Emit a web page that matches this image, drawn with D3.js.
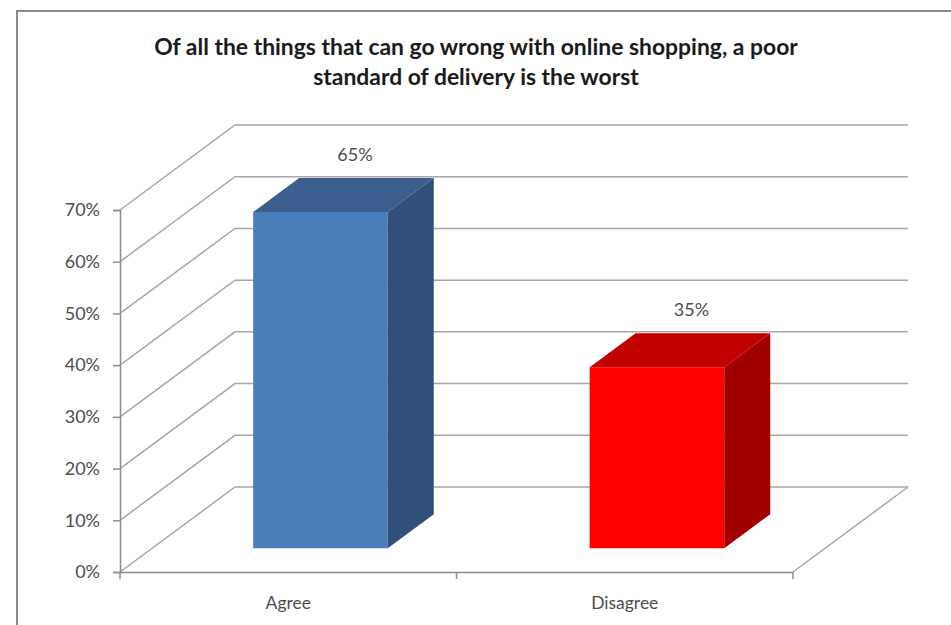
<!DOCTYPE html>
<html><head><meta charset="utf-8">
<script src="https://cdn.jsdelivr.net/npm/d3@7"></script>
<style>html,body{margin:0;padding:0;background:#fff;}svg{display:block;}</style>
</head><body>
<script>
const titleLines = ["Of all the things that can go wrong with online shopping, a poor", "standard of delivery is the worst"];
const categories = ["Agree", "Disagree"];
const values = [0.65, 0.35];
const valueLabels = ["65%", "35%"];
const tickValues = [0, 0.1, 0.2, 0.3, 0.4, 0.5, 0.6, 0.7];
const frontColors = ["#4a7ebb", "#ff0000"];
const topColors = ["#3a5f8e", "#c20000"];
const sideColors = ["#30507a", "#a00000"];

const W = 951, H = 625;
const svg = d3.select("body").append("svg").attr("width", W).attr("height", H);
const font = "Lato, 'Open Sans', sans-serif";

// frame
svg.append("path").attr("d", `M17,${H} L17,11 L${W},11`).attr("fill","none").attr("stroke","#8a8a8a").attr("stroke-width",2);

// title
svg.append("g").selectAll("text").data(titleLines).join("text")
  .attr("x", 476).attr("y", (d,i)=>55 + i*30)
  .attr("text-anchor","middle").attr("font-family",font).attr("font-weight","bold")
  .attr("font-size",22.9).attr("fill","#1a1a1a").text(d=>d);

// scales (front plane z=0), oblique depth
const x = d3.scaleBand().domain(categories).range([120, 793]).paddingInner(0).paddingOuter(0);
const y = d3.scaleLinear().domain([0, 0.7]).range([572, 210]);
const DX = 115, DY = -85;
const P = (px, v, z) => [px + z*DX, y(v) + z*DY];

const grid = svg.append("g").attr("fill","none").attr("stroke","#a6a6a6").attr("stroke-width",1.5);
tickValues.forEach(t => {
  const a = P(x.range()[0], t, 0), b = P(x.range()[0], t, 1), c = P(x.range()[1], t, 1);
  grid.append("path").attr("d", `M${a[0]},${a[1]} L${b[0]},${b[1]} L${c[0]},${c[1]}`);
});
{
  const a = P(x.range()[1], 0, 0), b = P(x.range()[1], 0, 1);
  grid.append("path").attr("d", `M${a[0]},${a[1]} L${b[0]},${b[1]}`);
}

// y axis
const yAxis = d3.axisLeft(y).tickValues(tickValues).tickFormat(d3.format(".0%")).tickSize(7).tickPadding(13);
const ya = svg.append("g").attr("transform", `translate(${x.range()[0]},0)`).call(yAxis);
ya.select(".domain").attr("stroke","#8c8c8c").attr("stroke-width",1.5);
ya.selectAll(".tick line").attr("stroke","#8c8c8c").attr("stroke-width",1.5);
ya.selectAll("text").attr("font-family",font).attr("font-size",18).attr("fill","#4d4d4d");

// x axis
const xAxis = d3.axisBottom(x).tickSize(0).tickPadding(25);
const xa = svg.append("g").attr("transform", `translate(0,${y(0)})`).call(xAxis);
xa.select(".domain").attr("stroke","#8c8c8c").attr("stroke-width",1.5);
xa.selectAll("text").attr("font-family",font).attr("font-size",17.5).attr("fill","#4d4d4d");
const bounds = [x.range()[0], x(categories[1]), x.range()[1]];
xa.append("g").selectAll("line").data(bounds).join("line")
  .attr("x1",d=>d).attr("x2",d=>d).attr("y1",0).attr("y2",7)
  .attr("stroke","#8c8c8c").attr("stroke-width",1.5);

// bars
const bw = x.bandwidth()*0.40;
const z0 = 0.28, z1 = 0.68;
const bars = svg.append("g");
categories.forEach((c,i) => {
  const cx = x(c) + x.bandwidth()/2;
  const xl = cx - bw/2, xr = cx + bw/2, v = values[i];
  const pt = p => p.join(",");
  const fBL = P(xl,0,z0), fBR = P(xr,0,z0), fTL = P(xl,v,z0), fTR = P(xr,v,z0);
  const bTL = P(xl,v,z1), bTR = P(xr,v,z1), bBR = P(xr,0,z1);
  bars.append("polygon").attr("points",[fBL,fBR,fTR,fTL].map(pt).join(" ")).attr("fill",frontColors[i]);
  bars.append("polygon").attr("points",[fTL,fTR,bTR,bTL].map(pt).join(" ")).attr("fill",topColors[i]);
  bars.append("polygon").attr("points",[fBR,bBR,bTR,fTR].map(pt).join(" ")).attr("fill",sideColors[i]);
  const lp = P(cx, v, 0.58);
  bars.append("text").attr("x", lp[0]).attr("y", lp[1]-26).attr("text-anchor","middle")
    .attr("font-family",font).attr("font-size",18).attr("fill","#4d4d4d").text(valueLabels[i]);
});
</script>
</body></html>
